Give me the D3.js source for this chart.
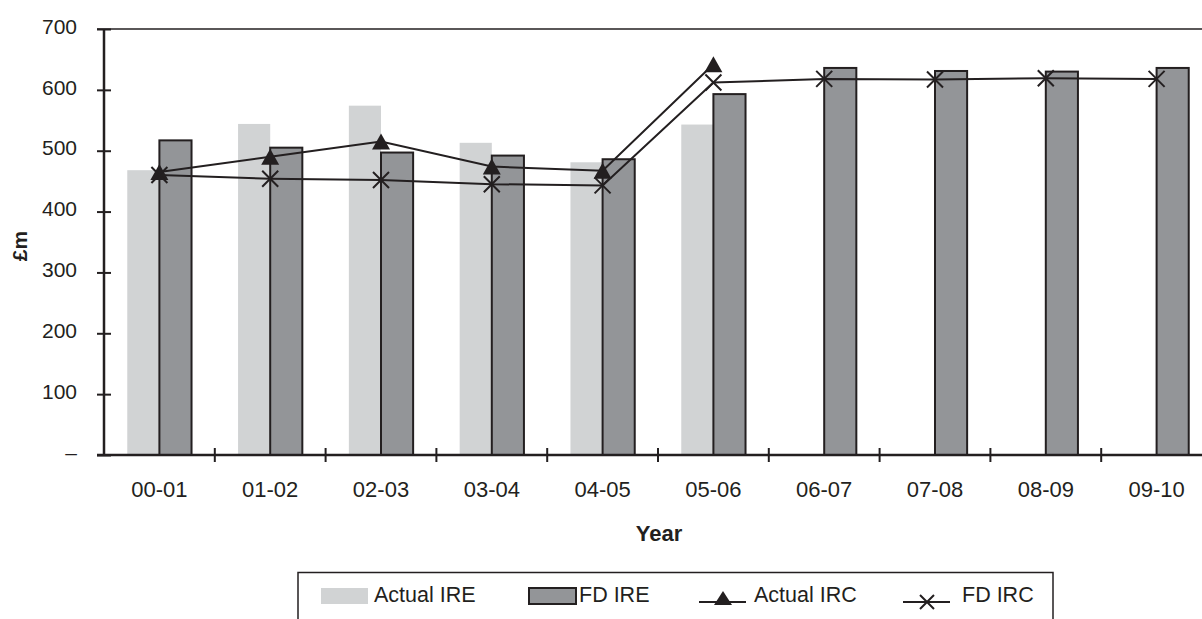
<!DOCTYPE html>
<html>
<head>
<meta charset="utf-8">
<script src="https://cdn.jsdelivr.net/npm/d3@7"></script>
<style>
  html, body { margin: 0; padding: 0; background: #fff; }
  svg { display: block; font-family: "Liberation Sans", Arial, sans-serif; }
</style>
</head>
<body>
<svg id="chart" width="1202" height="619"></svg>
<script>
// ---- data ----
const years = ["00-01","01-02","02-03","03-04","04-05","05-06","06-07","07-08","08-09","09-10"];
const actualIRE = [468, 544, 574, 513, 481, 543, null, null, null, null];
const fdIRE     = [517, 505, 497, 492, 486, 593, 636, 631, 630, 636];
const actualIRC = [465, 490, 515, 474, 467, 642, null, null, null, null];
const fdIRC     = [460, 454, 452, 445, 443, 612, 618, 617, 619, 618];
const yTicks = [0, 100, 200, 300, 400, 500, 600, 700];
const legendLabels = ["Actual IRE", "FD IRE", "Actual IRC", "FD IRC"];

// ---- setup ----
const ink = "#231f20";
const lightFill = "#d1d3d4";
const darkFill = "#939598";
const svg = d3.select("#chart");

const x = d3.scaleBand().domain(years).range([104, 1212]).paddingInner(0).paddingOuter(0);
const y = d3.scaleLinear().domain([0, 700]).range([455, 29]);
const barW = x.bandwidth() * 0.29;
const cx = d => x(d) + x.bandwidth() / 2;

// top border line (700)
svg.append("line")
  .attr("x1", 97).attr("x2", 1202)
  .attr("y1", y(700)).attr("y2", y(700))
  .attr("stroke", ink).attr("stroke-width", 1.5);

// bars
const g = svg.append("g");
g.selectAll("rect.actual")
  .data(years.map((yr, i) => ({yr, v: actualIRE[i]})).filter(d => d.v != null))
  .join("rect")
  .attr("class", "actual")
  .attr("x", d => cx(d.yr) - barW)
  .attr("width", barW)
  .attr("y", d => y(d.v))
  .attr("height", d => y(0) - y(d.v))
  .attr("fill", lightFill);

g.selectAll("rect.fd")
  .data(years.map((yr, i) => ({yr, v: fdIRE[i]})))
  .join("rect")
  .attr("class", "fd")
  .attr("x", d => cx(d.yr))
  .attr("width", barW)
  .attr("y", d => y(d.v))
  .attr("height", d => y(0) - y(d.v))
  .attr("fill", darkFill)
  .attr("stroke", ink).attr("stroke-width", 2);

// lines
const line = d3.line().x(d => cx(d.yr)).y(d => y(d.v));
const aData = years.map((yr, i) => ({yr, v: actualIRC[i]})).filter(d => d.v != null);
const fData = years.map((yr, i) => ({yr, v: fdIRC[i]}));

svg.append("path").datum(aData).attr("d", line)
  .attr("fill", "none").attr("stroke", ink).attr("stroke-width", 2);
svg.append("path").datum(fData).attr("d", line)
  .attr("fill", "none").attr("stroke", ink).attr("stroke-width", 2);

// markers
const tri = (px, py, w, h) => `M${px},${py - h/2} L${px + w/2},${py + h/2} L${px - w/2},${py + h/2} Z`;
const cross = (px, py, s) => `M${px - s},${py - s} L${px + s},${py + s} M${px - s},${py + s} L${px + s},${py - s}`;

svg.selectAll("path.tri").data(aData).join("path")
  .attr("class", "tri")
  .attr("d", d => tri(cx(d.yr), y(d.v), 18, 16))
  .attr("fill", ink);
svg.selectAll("path.cross").data(fData).join("path")
  .attr("class", "cross")
  .attr("d", d => cross(cx(d.yr), y(d.v), 8))
  .attr("fill", "none").attr("stroke", ink).attr("stroke-width", 2);

// y axis
const yAxis = svg.append("g")
  .attr("transform", `translate(104,0)`)
  .call(d3.axisLeft(y).tickValues(yTicks).tickSize(7).tickPadding(20)
        .tickFormat(d => d === 0 ? "–" : d));
yAxis.select(".domain").attr("stroke", ink).attr("stroke-width", 2.5).attr("d", `M0,${y(700)}V${y(0)}`);
yAxis.selectAll(".tick line").attr("x1", 7).attr("x2", -7).attr("stroke", ink).attr("stroke-width", 2);
yAxis.selectAll(".tick text")
  .attr("fill", ink).attr("font-size", 21).attr("font-family", "Liberation Sans, Arial, sans-serif")
  .attr("dy", "0.2em");

// x axis
const xAxis = svg.append("g")
  .attr("transform", `translate(0,${y(0)})`)
  .call(d3.axisBottom(x).tickSize(0).tickPadding(0));
xAxis.select(".domain").attr("stroke", ink).attr("stroke-width", 2.5).attr("d", `M97,0H1202`);
xAxis.selectAll(".tick text")
  .attr("fill", ink).attr("font-size", 22).attr("font-family", "Liberation Sans, Arial, sans-serif")
  .attr("y", 42).attr("dy", 0);
// boundary ticks
xAxis.selectAll("line.bound").data(years.slice(1)).join("line")
  .attr("class", "bound")
  .attr("x1", d => x(d)).attr("x2", d => x(d))
  .attr("y1", -7).attr("y2", 7)
  .attr("stroke", ink).attr("stroke-width", 2);

// axis titles
svg.append("text")
  .attr("transform", "translate(27,246) rotate(-90)")
  .attr("text-anchor", "middle")
  .attr("font-weight", "bold").attr("font-size", 21).attr("fill", ink)
  .text("£m");
svg.append("text")
  .attr("x", 659).attr("y", 541)
  .attr("text-anchor", "middle")
  .attr("font-weight", "bold").attr("font-size", 22).attr("fill", ink)
  .text("Year");

// legend
const lg = svg.append("g");
lg.append("rect")
  .attr("x", 298).attr("y", 572.5).attr("width", 755).attr("height", 60)
  .attr("fill", "none").attr("stroke", ink).attr("stroke-width", 1.5);
const ly = 602;
lg.append("rect").attr("x", 321).attr("y", 588).attr("width", 47).attr("height", 16).attr("fill", lightFill);
lg.append("rect").attr("x", 529).attr("y", 588).attr("width", 47).attr("height", 16)
  .attr("fill", darkFill).attr("stroke", ink).attr("stroke-width", 2);
lg.append("line").attr("x1", 699).attr("x2", 746).attr("y1", ly).attr("y2", ly)
  .attr("stroke", ink).attr("stroke-width", 2);
lg.append("path").attr("d", tri(723, 598, 18, 14)).attr("fill", ink);
lg.append("line").attr("x1", 903).attr("x2", 950).attr("y1", ly).attr("y2", ly)
  .attr("stroke", ink).attr("stroke-width", 2);
lg.append("path").attr("d", cross(927, ly, 7)).attr("fill", "none").attr("stroke", ink).attr("stroke-width", 2);

const lx = [374, 579, 754, 962];
lg.selectAll("text.leg").data(legendLabels).join("text")
  .attr("class", "leg")
  .attr("x", (d, i) => lx[i]).attr("y", ly)
  .attr("font-size", 21.5).attr("fill", ink)
  .text(d => d);
</script>
</body>
</html>
